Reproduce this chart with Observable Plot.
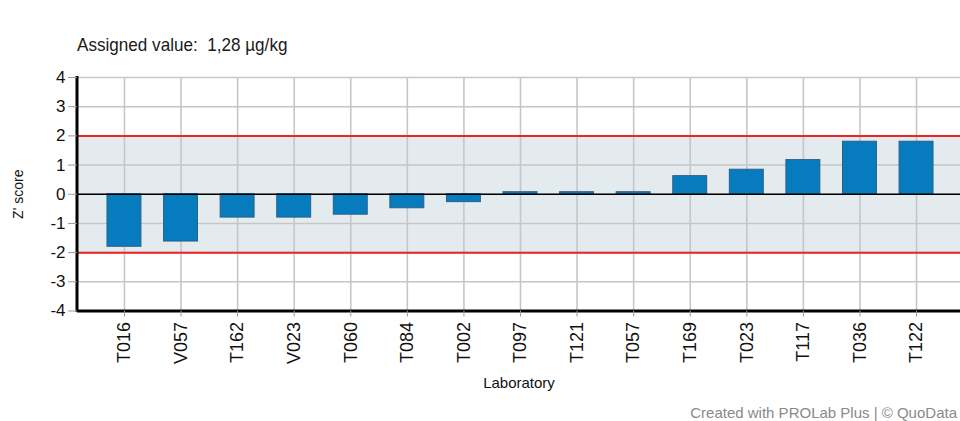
<!DOCTYPE html>
<html><head><meta charset="utf-8">
<script src="https://cdn.jsdelivr.net/npm/d3@7"></script>
<script src="https://cdn.jsdelivr.net/npm/@observablehq/plot@0.6"></script>
<style>
html,body{margin:0;padding:0;background:#fff;}
#wrap{position:relative;width:960px;height:421px;font-family:"Liberation Sans",Arial,sans-serif;overflow:hidden;}
#title{position:absolute;left:77px;top:34px;font-size:19px;color:#1a1a1a;white-space:pre;transform:scaleX(0.9);transform-origin:0 0;line-height:1.15;}
#caption{position:absolute;right:3px;top:404px;font-size:15px;color:#8a8a8a;white-space:pre;line-height:1.15;}
</style></head><body>
<div id="wrap"><div id="chart"></div><div id="title">Assigned value:  1,28 µg/kg</div><div id="caption">Created with PROLab Plus | © QuoData</div></div>
<script>
const labs = ["T016","V057","T162","V023","T060","T084","T002","T097","T121","T057","T169","T023","T117","T036","T122"];
const zScores = [-1.8,-1.62,-0.8,-0.8,-0.7,-0.48,-0.27,0.07,0.07,0.07,0.62,0.84,1.17,1.8,1.8];
const limits = [-2, 2];
const yTicks = [-4,-3,-2,-1,0,1,2,3,4];
const yLabel = "Z' score";
const xLabel = "Laboratory";
const data = labs.map((lab, i) => ({lab, z: zScores[i]}));

const leftLine = (index, scales, values, dims) => {
  const l = d3.create("svg:line")
    .attr("x1", dims.marginLeft).attr("x2", dims.marginLeft)
    .attr("y1", dims.marginTop - 1).attr("y2", dims.height - dims.marginBottom + 1.5)
    .attr("stroke", "#000").attr("stroke-width", 3);
  return l.node();
};

const chart = Plot.plot({
  width: 960, height: 421,
  marginLeft: 77, marginRight: 0, marginTop: 77, marginBottom: 110.5,
  style: {fontFamily: "Liberation Sans, Arial, sans-serif", background: "transparent", color: "#111"},
  x: {domain: labs, range: [77, 963], paddingInner: 0.4, paddingOuter: 0.53, round: false},
  y: {domain: [-4, 4]},
  marks: [
    Plot.rect([limits], {y1: d => d[0], y2: d => d[1], fill: "#e4ebef"}),
    Plot.gridY(yTicks, {stroke: "#c6c6c6", strokeOpacity: 1, strokeWidth: 1.6}),
    Plot.gridX(labs, {stroke: "#c6c6c6", strokeOpacity: 1, strokeWidth: 1.6}),
    Plot.barY(data, {x: "lab", y: "z", fill: "#067cbf", stroke: "#2c5f86", strokeWidth: 1}),
    Plot.ruleY(limits, {stroke: "#ec2424", strokeWidth: 2}),
    Plot.ruleY([0], {stroke: "#000", strokeWidth: 1.5}),
    Plot.ruleY([-4], {stroke: "#000", strokeWidth: 3}),
    leftLine,
    Plot.axisY(yTicks, {tickFormat: d => String(d), tickSize: 9, tickPadding: 3, fontSize: 17, stroke: "#999", fill: "#111", label: null}),
    Plot.axisX({tickRotate: -90, tickSize: 6, tickPadding: 5, fontSize: 18, stroke: "#999", fill: "#111", label: null}),
    Plot.text([yLabel], {text: d => d, frameAnchor: "left", textAnchor: "middle", rotate: -90, dx: -58.5, fontSize: 14, fill: "#111"}),
    Plot.text([xLabel], {text: d => d, frameAnchor: "bottom", textAnchor: "middle", dy: 77, fontSize: 15, fill: "#111"})
  ]
});
document.getElementById("chart").appendChild(chart);
</script>
</body></html>
